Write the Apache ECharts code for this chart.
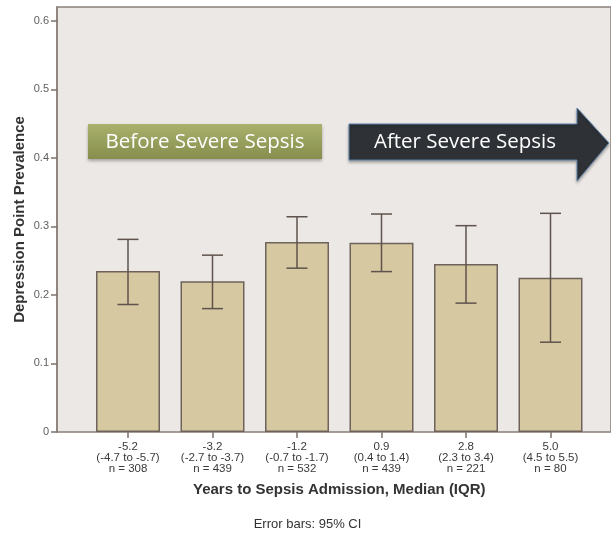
<!DOCTYPE html>
<html>
<head>
<meta charset="utf-8">
<script src="https://cdn.jsdelivr.net/npm/echarts@6/dist/echarts.min.js"></script>
<style>
html,body{margin:0;padding:0;background:#ffffff;}
#chart{width:611px;height:535px;}
</style>
</head>
<body>
<div id="chart"></div>
<script>
const medians = ['-5.2', '-3.2', '-1.2', '0.9', '2.8', '5.0'];
const iqrs = ['(-4.7 to -5.7)', '(-2.7 to -3.7)', '(-0.7 to -1.7)', '(0.4 to 1.4)', '(2.3 to 3.4)', '(4.5 to 5.5)'];
const counts = ['n = 308', 'n = 439', 'n = 532', 'n = 439', 'n = 221', 'n = 80'];
const prevalence = [0.235, 0.220, 0.277, 0.276, 0.245, 0.225];
const ciLow = [0.186, 0.180, 0.239, 0.234, 0.188, 0.131];
const ciHigh = [0.281, 0.258, 0.314, 0.318, 0.301, 0.319];
const yTicks = [0, 0.1, 0.2, 0.3, 0.4, 0.5, 0.6];

const categories = medians.map((m, i) => m + '\n' + iqrs[i] + '\n' + counts[i]);
const yMax = 0.62;
const edge = '#7d716b';

const chart = echarts.init(document.getElementById('chart'));
chart.setOption({
  animation: false,
  backgroundColor: '#ffffff',
  grid: [
    { left: 57, right: -3, top: 7, bottom: 103, show: true, backgroundColor: '#ece8e6', borderColor: '#8a7f7a', borderWidth: 1.5 },
    { left: 85.75, right: 18.25, top: 7, bottom: 103 }
  ],
  xAxis: [
    { gridIndex: 0, type: 'value', show: false, min: 0, max: 1 },
    {
      gridIndex: 1, type: 'category', data: categories,
      name: 'Years to Sepsis Admission, Median (IQR)',
      nameLocation: 'middle', nameGap: 50,
      nameTextStyle: { fontFamily: 'Liberation Sans', fontWeight: 'bold', fontSize: 15, color: '#333333' },
      axisLine: { show: false },
      axisTick: { show: true, alignWithLabel: true, length: 6, lineStyle: { color: edge, width: 1.5 } },
      axisLabel: { margin: 9, fontFamily: 'Liberation Sans', fontSize: 11.5, lineHeight: 11, color: '#3a3a3a', interval: 0 },
      splitLine: { show: false }
    }
  ],
  yAxis: [
    {
      gridIndex: 0, type: 'value', min: 0, max: yMax,
      name: 'Depression Point Prevalence', nameLocation: 'middle', nameGap: 30, nameMoveOverlap: false,
      nameTextStyle: { fontFamily: 'Liberation Sans', fontWeight: 'bold', fontSize: 15, color: '#333333' },
      axisLine: { show: true, lineStyle: { color: '#8a7f7a', width: 1.5 } },
      axisTick: { show: true, length: 6, customValues: yTicks, lineStyle: { color: edge, width: 1.5 } },
      axisLabel: { margin: 8, customValues: yTicks, fontFamily: 'Liberation Sans', fontSize: 11, color: '#5e5e5e' },
      splitLine: { show: false }
    },
    { gridIndex: 1, type: 'value', min: 0, max: yMax, show: false }
  ],
  series: [
    {
      type: 'bar', xAxisIndex: 1, yAxisIndex: 1, data: prevalence, barWidth: 64,
      itemStyle: { color: '#d6c8a0', borderColor: '#6e625b', borderWidth: 1.5 },
      z: 2
    },
    {
      type: 'custom', xAxisIndex: 1, yAxisIndex: 1,
      data: categories.map((c, i) => [i, ciLow[i], ciHigh[i]]),
      z: 3,
      renderItem: function (params, api) {
        const lo = api.coord([api.value(0), api.value(1)]);
        const hi = api.coord([api.value(0), api.value(2)]);
        const hw = 10.5;
        const st = { stroke: '#5f534d', lineWidth: 1.5 };
        return {
          type: 'group',
          children: [
            { type: 'line', shape: { x1: hi[0], y1: hi[1], x2: lo[0], y2: lo[1] }, style: st },
            { type: 'line', shape: { x1: hi[0] - hw, y1: hi[1], x2: hi[0] + hw, y2: hi[1] }, style: st },
            { type: 'line', shape: { x1: lo[0] - hw, y1: lo[1], x2: lo[0] + hw, y2: lo[1] }, style: st }
          ]
        };
      }
    }
  ],
  graphic: [
    {
      type: 'rect', z: 10,
      shape: { x: 88, y: 124, width: 234, height: 35 },
      style: {
        fill: new echarts.graphic.LinearGradient(0, 0, 0, 1, [
          { offset: 0, color: '#a9b16c' }, { offset: 1, color: '#878e4e' }
        ]),
        shadowBlur: 3, shadowOffsetY: 2, shadowColor: 'rgba(0,0,0,0.3)'
      }
    },
    {
      type: 'text', z: 11, x: 205, y: 142,
      style: { text: 'Before Severe Sepsis', fill: '#ffffff', font: '20.5px "Open Sans"', textAlign: 'center', textVerticalAlign: 'middle' }
    },
    {
      type: 'polygon', z: 10,
      shape: { points: [[349, 124], [577, 124], [577, 108], [609, 143], [577, 181], [577, 160], [349, 160]] },
      style: { fill: '#2e3237', stroke: '#5b7fa6', lineWidth: 1, shadowBlur: 3, shadowOffsetY: 2, shadowColor: 'rgba(0,0,0,0.3)' }
    },
    {
      type: 'text', z: 11, x: 465, y: 142,
      style: { text: 'After Severe Sepsis', fill: '#ffffff', font: '20.5px "Open Sans"', textAlign: 'center', textVerticalAlign: 'middle' }
    },
    {
      type: 'text', z: 11, x: 307.5, y: 524,
      style: { text: 'Error bars: 95% CI', fill: '#333333', font: '13px "Liberation Sans"', textAlign: 'center', textVerticalAlign: 'middle' }
    }
  ]
});
</script>
</body>
</html>
